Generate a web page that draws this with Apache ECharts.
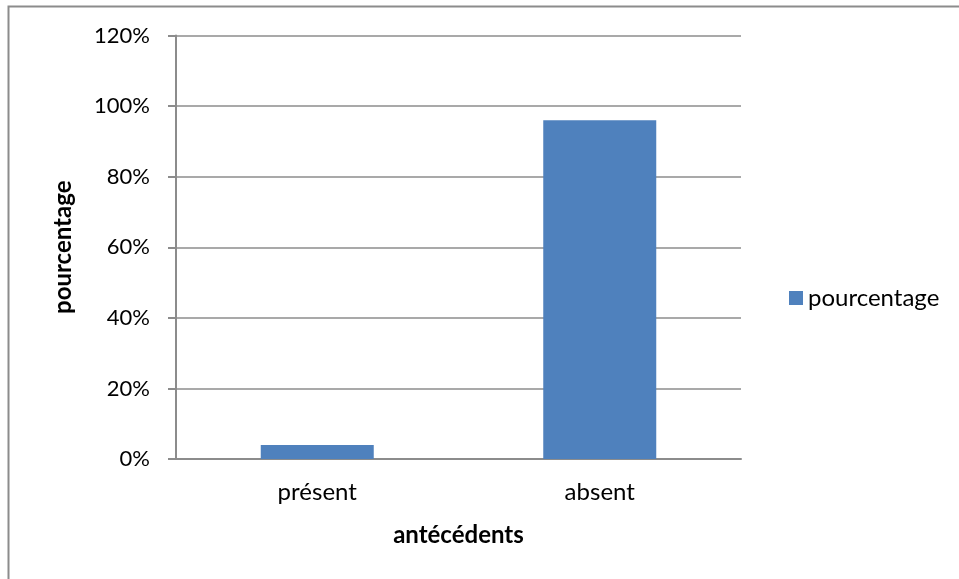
<!DOCTYPE html>
<html>
<head>
<meta charset="utf-8">
<script src="https://cdn.jsdelivr.net/npm/echarts@6/dist/echarts.min.js"></script>
<style>
  html, body { margin: 0; padding: 0; background: #fff; }
  #chart { width: 959px; height: 579px; }
</style>
</head>
<body>
<div id="chart"></div>
<script>
// Antécédents: share of cases with / without history
const categories = ['présent', 'absent'];
const pourcentage = [4, 96];
const yTicks = [0, 20, 40, 60, 80, 100, 120];

const FONT = 'Lato, "Open Sans", "Liberation Sans", sans-serif';
const GREY = '#8c8c8c';

const chart = echarts.init(document.getElementById('chart'), null, { renderer: 'canvas' });

chart.setOption({
  animation: false,
  backgroundColor: '#ffffff',
  graphic: [{
    type: 'rect',
    shape: { x: 8.5, y: 6.5, width: 1000, height: 700 },
    style: { fill: 'none', stroke: '#8c8c8c', lineWidth: 2 },
    silent: true
  }],
  grid: { left: 176, top: 35.5, width: 565, height: 423.5, containLabel: false },
  legend: {
    data: ['pourcentage'],
    left: 784,
    top: 281,
    icon: 'rect',
    itemWidth: 14,
    itemHeight: 14,
    itemGap: 8,
    textStyle: { fontFamily: FONT, fontSize: 24, color: '#000' }
  },
  xAxis: {
    type: 'category',
    data: categories,
    name: 'antécédents',
    nameLocation: 'middle',
    nameGap: 64,
    nameTextStyle: { fontFamily: FONT, fontSize: 24, fontWeight: 'bold', color: '#000' },
    axisLine: { lineStyle: { color: GREY, width: 2 } },
    axisTick: { show: false },
    axisLabel: { fontFamily: FONT, fontSize: 24, color: '#000', margin: 21 },
    splitLine: { show: false }
  },
  yAxis: {
    type: 'value',
    min: 0,
    max: 120,
    interval: 20,
    name: 'pourcentage',
    nameLocation: 'middle',
    nameGap: 101,
    nameTextStyle: { fontFamily: FONT, fontSize: 24, fontWeight: 'bold', color: '#000' },
    axisLine: { show: true, lineStyle: { color: GREY, width: 2 } },
    axisTick: { show: true, length: 8, lineStyle: { color: GREY, width: 2 } },
    axisLabel: {
      fontFamily: FONT, fontSize: 22, color: '#000', margin: 26,
      formatter: v => yTicks.includes(v) ? v + '%' : ''
    },
    splitLine: { lineStyle: { color: GREY, width: 1.5 } }
  },
  series: [{
    name: 'pourcentage',
    type: 'bar',
    data: pourcentage,
    barWidth: '40%',
    itemStyle: { color: '#4f81bd' }
  }]
});
</script>
</body>
</html>
